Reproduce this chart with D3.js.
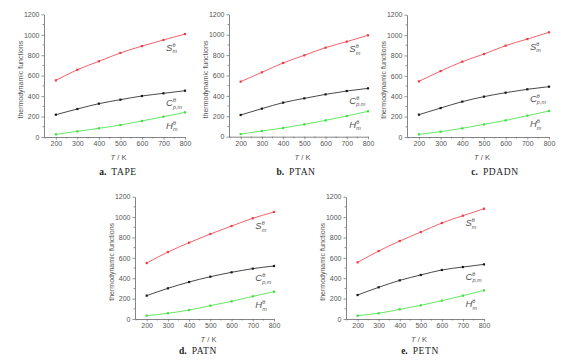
<!DOCTYPE html>
<html><head><meta charset="utf-8">
<script src="https://cdn.jsdelivr.net/npm/d3@7"></script>
<style>body{margin:0;background:#fff}svg{display:block}</style>
</head><body>
<svg id="c" width="571" height="362"></svg>
<script>
const temps = [200, 300, 400, 500, 600, 700, 800];
const xTicks = [200, 300, 400, 500, 600, 700, 800];
const yTicks = [0, 200, 400, 600, 800, 1000, 1200];
const compounds = ["TAPE", "PTAN", "PDADN", "PATN", "PETN"];
const letters = ["a.", "b.", "c.", "d.", "e."];
const S_TAPE  = [554, 658, 740, 822, 889, 949, 1007];
const C_TAPE  = [218, 274, 326, 365, 401, 427, 453];
const H_TAPE  = [26, 55, 85, 117, 157, 199, 241];
const S_PTAN  = [540, 631, 723, 798, 873, 932, 994];
const C_PTAN  = [213, 275, 334, 376, 415, 448, 474];
const H_PTAN  = [26, 56, 85, 121, 160, 203, 249];
const S_PDADN = [546, 647, 739, 814, 896, 961, 1027];
const C_PDADN = [219, 284, 347, 396, 435, 468, 494];
const H_PDADN = [26, 52, 85, 124, 163, 209, 255];
const S_PATN  = [549, 657, 749, 834, 912, 988, 1050];
const C_PATN  = [229, 301, 363, 415, 458, 494, 520];
const H_PATN  = [33, 56, 88, 131, 173, 222, 268];
const S_PETN  = [556, 667, 765, 853, 942, 1014, 1082];
const C_PETN  = [235, 311, 379, 432, 481, 510, 536];
const H_PETN  = [33, 56, 95, 134, 180, 229, 281];

const seriesByCompound = [
  [S_TAPE, C_TAPE, H_TAPE],
  [S_PTAN, C_PTAN, H_PTAN],
  [S_PDADN, C_PDADN, H_PDADN],
  [S_PATN, C_PATN, H_PATN],
  [S_PETN, C_PETN, H_PETN]
];
const seriesNames = [
  {base: "S", sub: "m"},
  {base: "C", sub: "p,m"},
  {base: "H", sub: "m"}
];

// layout (pixels)
const panels = [
  {x0: 44,  x1: 185, yTop: 14.3, yBot: 137, capX: 118, capY: 175},
  {x0: 229, x1: 368, yTop: 14.3, yBot: 136.7, capX: 296, capY: 175},
  {x0: 407, x1: 549, yTop: 14.7, yBot: 137, capX: 495, capY: 175},
  {x0: 135, x1: 274, yTop: 196.7, yBot: 319, capX: 198, capY: 354},
  {x0: 346, x1: 484, yTop: 196.7, yBot: 319, capX: 420, capY: 354}
];
const colors = ["#ee3b45", "#1a1a1a", "#3fe03f"];
const textCol = "#555";
const axisCol = "#666";
const sans = "Liberation Sans, Arial, sans-serif";

const svg = d3.select("#c");

panels.forEach((p, i) => {
  const x = d3.scaleLinear().domain([145, 800]).range([p.x0, p.x1]);
  const y = d3.scaleLinear().domain([0, 1200]).range([p.yBot, p.yTop]);
  const g = svg.append("g");

  const xMinor = d3.range(150, 801, 50).filter(v => v % 100 !== 0);
  const yMinor = d3.range(100, 1200, 200);

  const xa = g.append("g").attr("transform", `translate(0,${p.yBot})`)
    .call(d3.axisBottom(x).tickValues(xTicks).tickFormat(d3.format("d"))
      .tickSize(2.5).tickPadding(2).tickSizeOuter(0));
  xa.selectAll("line.minor").data(xMinor).enter().append("line").attr("class", "minor")
    .attr("x1", d => x(d)).attr("x2", d => x(d)).attr("y1", 0).attr("y2", 1.5)
    .attr("stroke", axisCol).attr("stroke-width", 0.7);
  const ya = g.append("g").attr("transform", `translate(${p.x0},0)`)
    .call(d3.axisLeft(y).tickValues(yTicks).tickFormat(d3.format("d"))
      .tickSize(2.5).tickPadding(2).tickSizeOuter(0));
  ya.selectAll("line.minor").data(yMinor).enter().append("line").attr("class", "minor")
    .attr("y1", d => y(d)).attr("y2", d => y(d)).attr("x1", 0).attr("x2", -1.5)
    .attr("stroke", axisCol).attr("stroke-width", 0.7);

  [xa, ya].forEach(a => {
    a.select(".domain").attr("stroke", axisCol).attr("stroke-width", 0.8);
    a.selectAll(".tick line").attr("stroke", axisCol).attr("stroke-width", 0.7);
    a.selectAll(".tick text").attr("fill", textCol)
      .style("font-family", sans).style("font-size", "7px");
  });

  g.append("text")
    .attr("x", (p.x0 + p.x1) / 2 + 4).attr("y", p.yBot + 23)
    .attr("text-anchor", "middle").attr("fill", textCol)
    .style("font-family", sans).style("font-size", "7.5px")
    .html('<tspan font-style="italic">T</tspan> / K');
  g.append("text")
    .attr("transform", `translate(${p.x0 - 21},${(p.yTop + p.yBot) / 2 + 4}) rotate(-90)`)
    .attr("text-anchor", "middle").attr("fill", textCol)
    .style("font-family", sans).style("font-size", "7px")
    .text("thermodynamic functions");

  const line = d3.line().x((d, k) => x(temps[k])).y(d => y(d)).curve(d3.curveMonotoneX);
  seriesByCompound[i].forEach((vals, s) => {
    g.append("path").attr("d", line(vals)).attr("fill", "none")
      .attr("stroke", colors[s]).attr("stroke-width", 0.8);
    g.selectAll(null).data(vals).enter().append("rect")
      .attr("x", (d, k) => x(temps[k]) - 1.1).attr("y", d => y(d) - 1.1)
      .attr("width", 2.2).attr("height", 2.2).attr("fill", colors[s]);
    const v750 = (vals[5] + vals[6]) / 2;
    const t = g.append("text")
      .attr("x", x(712)).attr("y", y(v750) + 14)
      .attr("fill", textCol)
      .style("font-family", sans).style("font-size", "9.5px").style("font-style", "italic");
    t.append("tspan").text(seriesNames[s].base);
    t.append("tspan").attr("dy", -4).style("font-size", "5.5px").style("font-style", "normal").text("θ");
    t.append("tspan").attr("dx", -3).attr("dy", 6.5).style("font-size", "5.5px").text(seriesNames[s].sub);
  });

  const cap = g.append("text").attr("x", p.capX).attr("y", p.capY)
    .attr("text-anchor", "middle").attr("fill", "#222")
    .style("font-family", "Liberation Serif, Times New Roman, serif").style("font-size", "9.5px");
  cap.append("tspan").attr("font-weight", "bold").text(letters[i]);
  cap.append("tspan").attr("dx", 5).style("letter-spacing", "0.6px").text(compounds[i]);
});
</script>
</body></html>
